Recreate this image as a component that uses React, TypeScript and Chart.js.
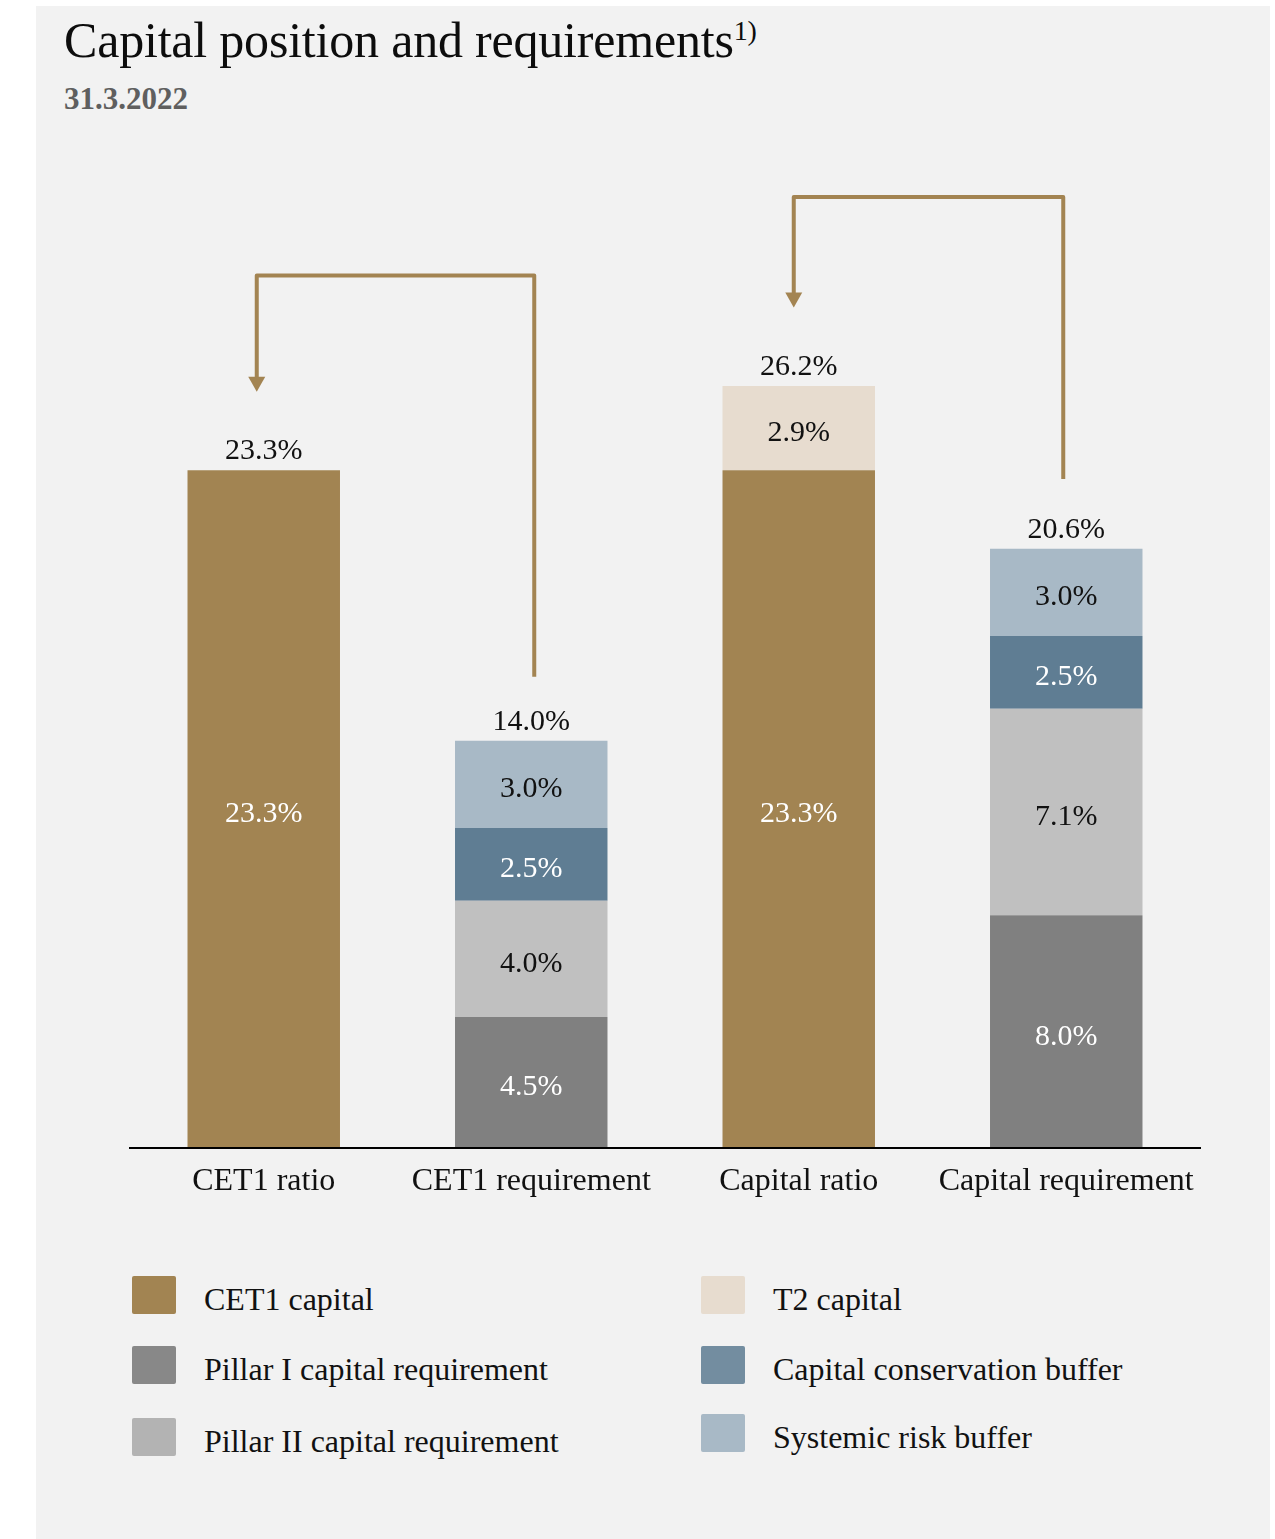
import React, { useEffect, useRef } from "react";
import { Chart, registerables } from "chart.js";

Chart.register(...registerables);

// ---------- data ----------
const categories = ["CET1 ratio", "CET1 requirement", "Capital ratio", "Capital requirement"];
const seriesNames = [
  "CET1 capital",
  "T2 capital",
  "Pillar I capital requirement",
  "Pillar II capital requirement",
  "Capital conservation buffer",
  "Systemic risk buffer",
];
const cet1Capital = [23.3, null, 23.3, null];
const t2Capital = [null, null, 2.9, null];
const pillar1 = [null, 4.5, null, 8.0];
const pillar2 = [null, 4.0, null, 7.1];
const conservationBuffer = [null, 2.5, null, 2.5];
const systemicRiskBuffer = [null, 3.0, null, 3.0];
const totals = [23.3, 14.0, 26.2, 20.6];

// arrows: from requirement bar to ratio bar (values in % units)
const arrowFromCategory = [1, 3];
const arrowToCategory = [0, 2];
const arrowStartValue = [16.2, 23.0];
const arrowTopValue = [30.0, 32.7];
const arrowTipValue = [26.0, 28.9];

// ---------- styles ----------
const barColors = ["#a28452", "#e7dccf", "#808080", "#c0c0c0", "#5f7d93", "#a8b9c6"];
const legendColors = ["#a28452", "#e7dccf", "#888888", "#b3b3b3", "#738da0", "#a8b9c6"];
const labelColors = ["#ffffff", "#111111", "#ffffff", "#111111", "#ffffff", "#111111"];
const arrowColor = "#a38452";
const arrowStartShift = [3, -3];
const arrowEndShift = [-7, -5];
const SERIF = "'Liberation Serif', 'Times New Roman', serif";

const seriesData = [cet1Capital, t2Capital, pillar1, pillar2, conservationBuffer, systemicRiskBuffer];

const overlayPlugin = {
  id: "overlay",
  afterDatasetsDraw(chart: any) {
    const { ctx } = chart;
    const x = chart.scales.x;
    const y = chart.scales.y;
    ctx.save();
    ctx.font = `30px ${SERIF}`;
    ctx.textAlign = "center";
    ctx.textBaseline = "middle";
    chart.data.datasets.forEach((ds: any, di: number) => {
      const meta = chart.getDatasetMeta(di);
      meta.data.forEach((el: any, i: number) => {
        const v = ds.data[i];
        if (v == null) return;
        const p = el.getProps(["x", "y", "base"], true);
        ctx.fillStyle = labelColors[di];
        ctx.fillText(v.toFixed(1) + "%", p.x, (p.y + p.base) / 2 + 5);
      });
    });
    totals.forEach((t, i) => {
      ctx.fillStyle = "#111111";
      ctx.fillText(t.toFixed(1) + "%", x.getPixelForValue(i), y.getPixelForValue(t) - 19);
    });
    ctx.strokeStyle = arrowColor;
    ctx.fillStyle = arrowColor;
    ctx.lineWidth = 4;
    ctx.lineJoin = "round";
    arrowFromCategory.forEach((from, k) => {
      const x1 = x.getPixelForValue(from) + arrowStartShift[k];
      const x2 = x.getPixelForValue(arrowToCategory[k]) + arrowEndShift[k];
      const yStart = y.getPixelForValue(arrowStartValue[k]);
      const yTop = y.getPixelForValue(arrowTopValue[k]);
      const yTip = y.getPixelForValue(arrowTipValue[k]);
      ctx.beginPath();
      ctx.moveTo(x1, yStart);
      ctx.lineTo(x1, yTop);
      ctx.lineTo(x2, yTop);
      ctx.lineTo(x2, yTip - 12);
      ctx.stroke();
      ctx.beginPath();
      ctx.moveTo(x2 - 8.5, yTip - 15);
      ctx.lineTo(x2 + 8.5, yTip - 15);
      ctx.lineTo(x2, yTip);
      ctx.closePath();
      ctx.fill();
    });
    ctx.restore();
  },
};

function LegendItem({ idx, left, top }: { idx: number; left: number; top: number }) {
  return (
    <div style={{ position: "absolute", left, top, height: 38, display: "flex", alignItems: "center" }}>
      <div style={{ width: 44, height: 38, background: legendColors[idx], borderRadius: 2 }} />
      <div
        style={{
          marginLeft: 28,
          fontFamily: SERIF,
          fontSize: 32,
          color: "#111111",
          whiteSpace: "nowrap",
          lineHeight: "38px",
          position: "relative",
          top: 4,
        }}
      >
        {seriesNames[idx]}
      </div>
    </div>
  );
}

export default function App() {
  const canvasRef = useRef<HTMLCanvasElement | null>(null);

  useEffect(() => {
    if (!canvasRef.current) return;
    const chart = new Chart(canvasRef.current, {
      type: "bar",
      data: {
        labels: categories,
        datasets: seriesNames.map((name, i) => ({
          label: name,
          data: seriesData[i] as any,
          backgroundColor: barColors[i],
          borderWidth: 0,
          categoryPercentage: 1,
          barPercentage: 0.57,
        })),
      },
      options: {
        responsive: false,
        maintainAspectRatio: false,
        animation: false,
        layout: { padding: { left: 94, right: 70, top: 0, bottom: 0 } },
        plugins: {
          legend: { display: false },
          tooltip: { enabled: false },
          title: { display: false },
        },
        scales: {
          x: {
            stacked: true,
            grid: { display: false, drawTicks: false },
            border: { display: true, color: "#000000", width: 2, z: 1 },
            ticks: { color: "#111111", font: { family: SERIF, size: 32 }, padding: 14 },
            afterFit: (s: any) => {
              s.height = 60;
            },
          },
          y: { stacked: true, display: false, min: 0, max: 35 },
        },
      } as any,
      plugins: [overlayPlugin],
    });
    return () => chart.destroy();
  }, []);

  return (
    <div
      style={{
        position: "absolute",
        left: 0,
        top: 0,
        width: 1275,
        height: 1539,
        background: "#ffffff",
        overflow: "hidden",
      }}
    >
      <div style={{ position: "absolute", left: 36, top: 6, width: 1234, height: 1533, background: "#f2f2f2" }} />
      <div
        style={{
          position: "absolute",
          left: 64,
          top: 15,
          fontFamily: SERIF,
          fontSize: 50,
          lineHeight: "50px",
          color: "#0d0d0d",
          whiteSpace: "nowrap",
          letterSpacing: -0.2,
        }}
      >
        Capital position and requirements
        <span style={{ fontSize: 28, position: "relative", top: -17 }}>1)</span>
      </div>
      <div
        style={{
          position: "absolute",
          left: 64,
          top: 83,
          fontFamily: SERIF,
          fontSize: 31,
          lineHeight: "31px",
          fontWeight: "bold",
          color: "#5f5f5f",
        }}
      >
        31.3.2022
      </div>
      <canvas
        ref={canvasRef}
        width={1234}
        height={1078}
        style={{ position: "absolute", left: 36, top: 130, width: 1234, height: 1078 }}
      />
      <LegendItem idx={0} left={132} top={1276} />
      <LegendItem idx={2} left={132} top={1346} />
      <LegendItem idx={3} left={132} top={1418} />
      <LegendItem idx={1} left={701} top={1276} />
      <LegendItem idx={4} left={701} top={1346} />
      <LegendItem idx={5} left={701} top={1414} />
    </div>
  );
}
